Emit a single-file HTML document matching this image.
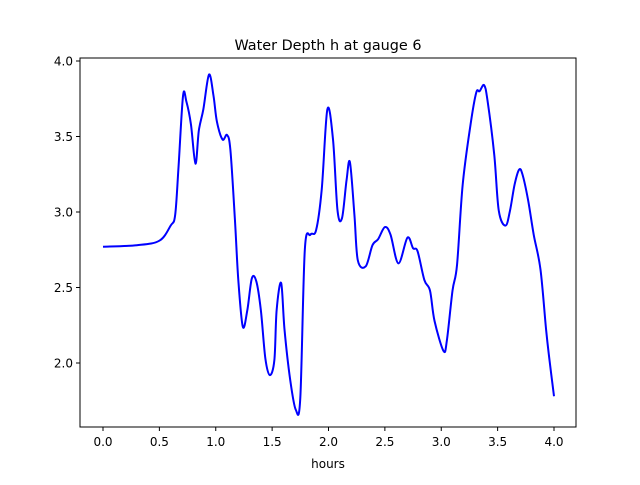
<!DOCTYPE html>
<html><head><meta charset="utf-8"><style>
body{margin:0;background:#fff;font-family:"Liberation Sans","DejaVu Sans",sans-serif}
svg text{font-family:"DejaVu Sans","Liberation Sans",sans-serif;font-size:12px;fill:#000}
</style></head><body>
<svg id="chart" width="640" height="480">
<rect x="0" y="0" width="640" height="480" fill="#fff"/>
<text x="328" y="50" text-anchor="middle" style="font-size:14.4px">Water Depth h at gauge 6</text>
<text x="328" y="468" text-anchor="middle">hours</text>
<g id="ticks"></g>
<path id="line" fill="none" stroke="#0000ff" stroke-width="2" stroke-linejoin="round"/>
<rect x="80" y="58" width="496" height="369" fill="none" stroke="#000" stroke-width="1"/>
</svg>
<script>
const hours=[0,0.3,0.5,0.6,0.64,0.67,0.71,0.74,0.78,0.82,0.85,0.89,0.94,0.98,1.01,1.06,1.1,1.13,1.17,1.2,1.24,1.28,1.32,1.36,1.4,1.44,1.48,1.52,1.54,1.58,1.61,1.66,1.71,1.75,1.79,1.84,1.89,1.94,1.99,2.04,2.08,2.12,2.16,2.19,2.23,2.26,2.33,2.39,2.44,2.5,2.55,2.62,2.7,2.75,2.79,2.85,2.9,2.94,3.02,3.05,3.1,3.14,3.19,3.26,3.31,3.34,3.38,3.41,3.47,3.51,3.57,3.61,3.65,3.69,3.72,3.77,3.82,3.88,3.93,3.96,4.0];
const depth=[2.77,2.78,2.81,2.91,2.98,3.3,3.77,3.73,3.58,3.32,3.54,3.68,3.91,3.77,3.6,3.48,3.51,3.41,2.95,2.55,2.24,2.35,2.56,2.54,2.35,2.03,1.92,2.02,2.35,2.53,2.22,1.89,1.69,1.77,2.75,2.85,2.88,3.15,3.68,3.48,3.01,2.96,3.21,3.33,2.98,2.68,2.64,2.78,2.82,2.9,2.85,2.66,2.83,2.76,2.74,2.55,2.48,2.28,2.08,2.15,2.48,2.65,3.18,3.58,3.79,3.8,3.84,3.74,3.38,3.01,2.91,3.01,3.18,3.28,3.25,3.08,2.85,2.62,2.22,2.02,1.78];
const xTicks=[0,0.5,1,1.5,2,2.5,3,3.5,4];
const yTicks=[2,2.5,3,3.5,4];
const xs=v=>103+v*112.75, ys=v=>61+(4-v)*151;
const NS="http://www.w3.org/2000/svg", g=document.getElementById('ticks');
function mk(t,a){const e=document.createElementNS(NS,t);for(const k in a)e.setAttribute(k,a[k]);g.appendChild(e);return e;}
xTicks.forEach(v=>{
 const l=mk('line',{x1:xs(v),x2:xs(v),y1:427,y2:431,stroke:'#000'});
 
 
 const t=mk('text',{x:xs(v),y:446,'text-anchor':'middle'});t.textContent=v.toFixed(1);
 
 
});
yTicks.forEach(v=>{
 const l=mk('line',{x1:76,x2:80,y1:ys(v),y2:ys(v),stroke:'#000'});
 
 
 const t=mk('text',{x:73,y:ys(v)+4.5,'text-anchor':'end'});t.textContent=v.toFixed(1);
 
 
});
const P=hours.map((h,i)=>[xs(h),ys(depth[i])]);
let d='M'+P[0][0]+','+P[0][1];
for(let i=0;i<P.length-1;i++){
 const p0=P[Math.max(0,i-1)],p1=P[i],p2=P[i+1],p3=P[Math.min(P.length-1,i+2)];
 const c1=[p1[0]+(p2[0]-p0[0])/6,p1[1]+(p2[1]-p0[1])/6],c2=[p2[0]-(p3[0]-p1[0])/6,p2[1]-(p3[1]-p1[1])/6];
 d+=`C${c1[0]},${c1[1]} ${c2[0]},${c2[1]} ${p2[0]},${p2[1]}`;
}
document.getElementById('line').setAttribute('d',d);
</script>
</body></html>
